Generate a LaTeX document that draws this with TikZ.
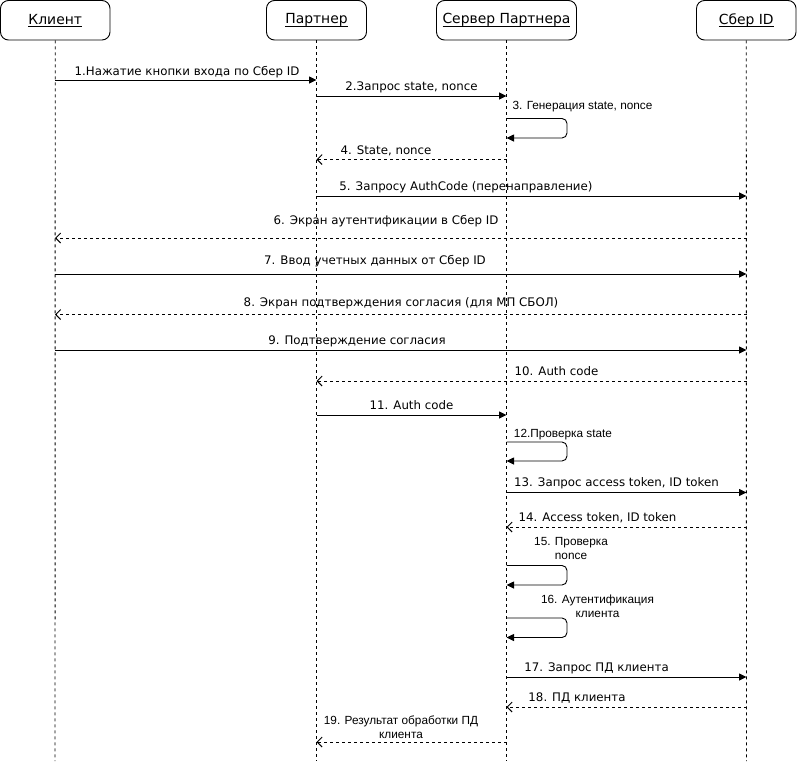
\documentclass[tikz,border=0pt]{standalone}
\usepackage{fontspec}
\setmainfont{DejaVu Sans}
\newfontfamily\arialf{Liberation Sans}
\usetikzlibrary{arrows.meta}
\def\xC{55}
\def\xP{316.5}
\def\xS{506.5}
\def\xB{746.5}
\newcommand\ulx[1]{\setbox0\hbox{#1}\rlap{\rule[-2.6pt]{\wd0}{0.9pt}}\box0}
\newcommand\msgline[5]{%
  \coordinate (#5a) at (#2,#4);
  \coordinate (#5b) at (#3,#4);
  \draw[#1] (#5a) -- (#5b);}
\newcommand\selfloop[3]{%
  \coordinate (#3a) at (\xS,#1);
  \coordinate (#3b) at (\xS,#2);
  \draw[call, rounded corners=5pt] (#3a) -- ++(60.5,0) |- (#3b);}
\begin{document}
\begin{tikzpicture}[x=1pt,y=-1pt,
  actor/.style={draw, line width=0.9pt, rounded corners=8pt, minimum height=39.5pt,
    inner sep=0pt, font=\fontsize{13.9}{16}\selectfont},
  life/.style={line width=0.9pt, dash pattern=on 3pt off 3pt},
  call/.style={line width=0.9pt, -{Triangle[length=7.5pt,width=7pt]}},
  ret/.style={line width=0.9pt, dash pattern=on 3pt off 3pt,
    -{Straight Barb[length=5pt,width=10pt,line width=0.9pt]}},
  lbl/.style={font=\fontsize{11.8}{14}\selectfont, inner sep=0pt, anchor=base},
  albl/.style={font=\arialf\fontsize{11.8}{14}\selectfont, inner sep=0pt, anchor=base, align=center},
]
\useasboundingbox (0,0) rectangle (797,761);
% actors
\node[actor, minimum width=109.5pt] (c) at (55.25,20.25) {\ulx{Клиент}};
\node[actor, minimum width=100pt] (p) at (316.5,20.25) {\ulx{Партнер}};
\node[actor, minimum width=140pt] (s) at (506.5,20.25) {\ulx{Сервер Партнера}};
\node[actor, minimum width=99.5pt] (b) at (746.25,20.25) {\ulx{Сбер ID}};
% lifelines
\coordinate (cE) at (\xC,761);
\coordinate (pE) at (\xP,761);
\coordinate (sE) at (\xS,761);
\coordinate (bE) at (\xB,761);
\draw[life] (c.south) -- (cE);
\draw[life] (p.south) -- (pE);
\draw[life] (s.south) -- (sE);
\draw[life] (b.south) -- (bE);
% messages
\msgline{call}{\xC}{\xP}{80}{m1}
\node[lbl] (t1) at (187,75) {1.Нажатие кнопки входа по Сбер ID};
\msgline{call}{\xP}{\xS}{96}{m2}
\node[lbl] (t2) at (411.5,90.5) {2.Запрос state, nonce};
\selfloop{118.5}{138}{m3}
\node[albl] (t3) at (582.5,109.5) {3. Генерация state, nonce};
\msgline{ret}{\xS}{\xP}{159.5}{m4}
\node[lbl] (t4) at (386,154.5) {4. State, nonce};
\msgline{call}{\xP}{\xB}{196}{m5}
\node[lbl] (t5) at (466,190) {5. Запросу AuthCode (перенаправление)};
\msgline{ret}{\xB}{\xC}{238}{m6}
\node[lbl] (t6) at (386,224.5) {6. Экран аутентификации в Сбер ID};
\msgline{call}{\xC}{\xB}{274}{m7}
\node[lbl] (t7) at (375,264.5) {7. Ввод учетных данных от Сбер ID};
\msgline{ret}{\xB}{\xC}{314.5}{m8}
\node[lbl] (t8) at (401,306) {8. Экран подтверждения согласия (для МП СБОЛ)};
\msgline{call}{\xC}{\xB}{350}{m9}
\node[lbl] (t9) at (357,344.5) {9. Подтверждение согласия};
\msgline{ret}{\xB}{\xP}{381}{m10}
\node[lbl] (t10) at (556.5,375) {10. Auth code};
\msgline{call}{\xP}{\xS}{415}{m11}
\node[lbl] (t11) at (411.5,409.5) {11. Auth code};
\selfloop{442}{461}{m12}
\node[albl] (t12) at (563,437) {12.Проверка state};
\msgline{call}{\xS}{\xB}{492.5}{m13}
\node[lbl] (t13) at (616.5,486) {13. Запрос access token, ID token};
\msgline{ret}{\xB}{\xS}{527}{m14}
\node[lbl] (t14) at (597.5,521.5) {14. Access token, ID token};
\selfloop{565.5}{585}{m15}
\node[albl] (t15) at (571,559) {15. Проверка\\nonce};
\selfloop{618}{637.5}{m16}
\node[albl] (t16) at (597.5,617) {16. Аутентификация\\клиента};
\msgline{call}{\xS}{\xB}{677}{m17}
\node[lbl] (t17) at (596.5,671.5) {17. Запрос ПД клиента};
\msgline{ret}{\xB}{\xS}{707}{m18}
\node[lbl] (t18) at (577,701.5) {18. ПД клиента};
\msgline{ret}{\xS}{\xP}{742}{m19}
\node[albl] (t19) at (401,738) {19. Результат обработки ПД\\клиента};
\end{tikzpicture}
\end{document}
